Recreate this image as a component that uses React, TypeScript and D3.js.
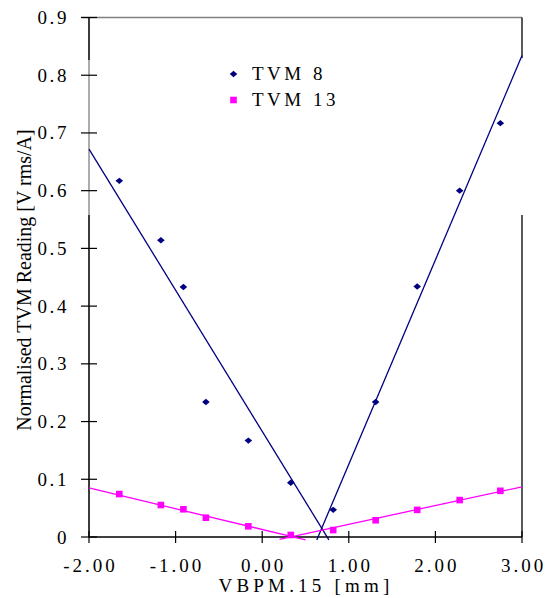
import React from "react";
import * as d3 from "d3";

const xPositions = [-1.65, -1.17, -0.91, -0.65, -0.16, 0.33, 0.82, 1.31, 1.79, 2.28, 2.75];
const tvm8 = [0.617, 0.514, 0.433, 0.234, 0.167, 0.094, 0.047, 0.234, 0.434, 0.6, 0.717];
const tvm13 = [0.0744, 0.0554, 0.048, 0.0334, 0.0185, 0.0035, 0.012, 0.029, 0.047, 0.064, 0.08];

const fit8Left = [[-2, 0.672], [0.77, -0.005]];
const fit8Right = [[0.63, -0.005], [3.0, 0.834]];
const fit13Left = [[-2, 0.085], [0.5, -0.005]];
const fit13Right = [[0.2, -0.004], [3.0, 0.087]];

const xTicks = [-2, -1, 0, 1, 2, 3];
const xTickLabels = ["-2.00", "-1.00", "0.00", "1.00", "2.00", "3.00"];
const yTicks = [0, 0.1, 0.2, 0.3, 0.4, 0.5, 0.6, 0.7, 0.8, 0.9];
const yTickLabels = ["0", "0.1", "0.2", "0.3", "0.4", "0.5", "0.6", "0.7", "0.8", "0.9"];

const seriesNames = ["TVM 8", "TVM 13"];
const NAVY = "#000080";
const MAGENTA = "#FF00FF";
const FONT = "'Liberation Serif', 'Times New Roman', serif";

export default function App() {
  const left = 89, right = 522, top = 17.5, bottom = 537;
  const x = d3.scaleLinear().domain([-2, 3]).range([left, right]);
  const y = d3.scaleLinear().domain([0, 0.9]).range([bottom, top]);
  const line = d3.line<number[]>().x((d) => x(d[0])).y((d) => y(d[1]));
  const diamond = (cx: number, cy: number) =>
    `M${cx},${cy - 3.2}L${cx + 3.8},${cy}L${cx},${cy + 3.2}L${cx - 3.8},${cy}Z`;

  return (
    <svg width={551} height={598} style={{ position: "absolute", left: 0, top: 0, background: "#fff" }}>
      <rect x={0} y={0} width={551} height={598} fill="#fff" />
      {/* plot frame */}
      <line x1={81} x2={right} y1={top} y2={top} stroke="#808080" strokeWidth={1.3} />
      <line x1={left} x2={left} y1={top} y2={bottom} stroke="#808080" strokeWidth={1.3} />
      <line x1={left} x2={left} y1={top} y2={60} stroke="#000" strokeWidth={1.3} />
      <line x1={left} x2={left} y1={215} y2={bottom} stroke="#000" strokeWidth={1.3} />
      <line x1={right} x2={right} y1={top} y2={58} stroke="#000" strokeWidth={1.3} />
      <line x1={right} x2={right} y1={215} y2={bottom} stroke="#000" strokeWidth={1.3} />
      <line x1={left} x2={right} y1={bottom} y2={bottom} stroke="#000" strokeWidth={1.3} />

      {/* y ticks */}
      {yTicks.map((t, i) => (
        <g key={"y" + i}>
          <line x1={81} x2={97} y1={y(t)} y2={y(t)} stroke="#000" strokeWidth={1.2} />
          <text x={69} y={y(t) + 6.5} textAnchor="end" fontFamily={FONT} fontSize={19} letterSpacing={2.6} fill="#000">
            {yTickLabels[i]}
          </text>
        </g>
      ))}
      {/* x ticks */}
      {xTicks.map((t, i) => (
        <g key={"x" + i}>
          <line x1={x(t)} x2={x(t)} y1={bottom - 6} y2={bottom + 6} stroke="#000" strokeWidth={1.2} />
          <text x={x(t) + 1.5} y={572} textAnchor="middle" fontFamily={FONT} fontSize={19} letterSpacing={3} fill="#000">
            {xTickLabels[i]}
          </text>
        </g>
      ))}

      {/* fit lines */}
      <path d={line(fit8Left) || ""} stroke={NAVY} strokeWidth={1.3} fill="none" />
      <path d={line(fit8Right) || ""} stroke={NAVY} strokeWidth={1.3} fill="none" />
      <path d={line(fit13Left) || ""} stroke={MAGENTA} strokeWidth={1.3} fill="none" />
      <path d={line(fit13Right) || ""} stroke={MAGENTA} strokeWidth={1.3} fill="none" />

      {/* markers */}
      {xPositions.map((xv, i) => (
        <path key={"d" + i} d={diamond(x(xv), y(tvm8[i]))} fill={NAVY} />
      ))}
      {xPositions.map((xv, i) => (
        <rect key={"s" + i} x={x(xv) - 3.3} y={y(tvm13[i]) - 3.3} width={6.6} height={6.6} fill={MAGENTA} />
      ))}

      {/* legend */}
      <path d={diamond(233.5, 74)} fill={NAVY} />
      <text x={252} y={79.5} fontFamily={FONT} fontSize={19} letterSpacing={3.5} fill="#000">{seriesNames[0]}</text>
      <rect x={230.2} y={96.7} width={6.6} height={6.6} fill={MAGENTA} />
      <text x={252} y={105.5} fontFamily={FONT} fontSize={19} letterSpacing={3.5} fill="#000">{seriesNames[1]}</text>

      {/* axis titles */}
      <text x={306} y={592} textAnchor="middle" fontFamily={FONT} fontSize={19} letterSpacing={4.2} fill="#000">
        VBPM.15 [mm]
      </text>
      <text transform="translate(31,280) rotate(-90)" textAnchor="middle" fontFamily={FONT} fontSize={20} fill="#000">
        Normalised TVM Reading [V rms/A]
      </text>
    </svg>
  );
}
